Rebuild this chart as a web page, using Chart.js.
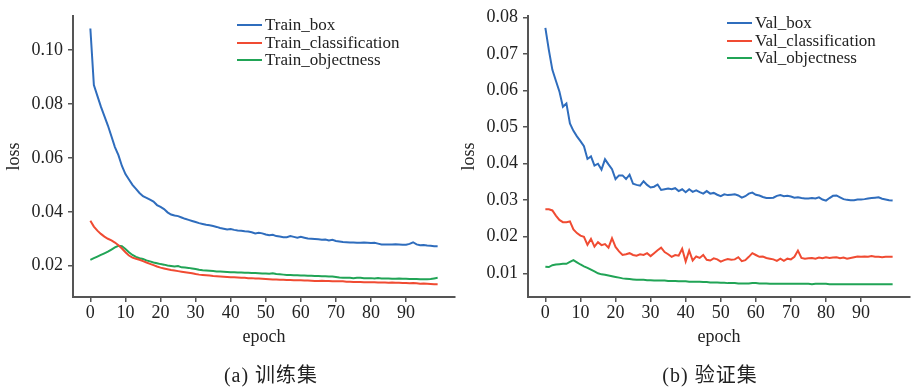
<!DOCTYPE html>
<html>
<head>
<meta charset="utf-8">
<script src="https://cdn.jsdelivr.net/npm/chart.js@4"></script>
<style>
  body { margin: 0; background: #fff; width: 911px; height: 387px; overflow: hidden; position: relative;
         font-family: "Liberation Serif", "Noto Sans CJK SC", serif; color: #222; }
  canvas { position: absolute; top: 0; }
  .legend { position: absolute; font-size: 17px; line-height: 17.5px; }
  .legend .row { position: relative; height: 17.5px; white-space: nowrap; }
  .legend .swatch { position: absolute; left: 0; top: 8px; width: 25px; height: 2px; }
  .legend .txt { position: absolute; left: 28px; top: 0; }
  .caption { position: absolute; top: 359px; font-size: 20px; letter-spacing: 1px; transform: translateX(-50%); white-space: nowrap; }
</style>
</head>
<body>
<canvas id="trainChart" width="460" height="360" style="left:0"></canvas>
<canvas id="valChart" width="456" height="360" style="left:455px"></canvas>
<div class="legend" id="trainLegend" style="left:237px; top:16px"></div>
<div class="legend" id="valLegend" style="left:727px; top:14px"></div>
<div class="caption" style="left:271px">(a)&nbsp;训练集</div>
<div class="caption" style="left:710px">(b)&nbsp;验证集</div>
<script>
const epochs = Array.from({ length: 100 }, (_, i) => i);
const xTicks = [0, 10, 20, 30, 40, 50, 60, 70, 80, 90];
const trainTicks = [0.02, 0.04, 0.06, 0.08, 0.10];
const valTicks = [0.01, 0.02, 0.03, 0.04, 0.05, 0.06, 0.07, 0.08];

const trainBox = [
  0.1080, 0.0870, 0.0830, 0.0790, 0.0755, 0.0720, 0.0680, 0.0640, 0.0610, 0.0570,
  0.0540, 0.0520, 0.0500, 0.0485, 0.0470, 0.0458, 0.0452, 0.0445, 0.0438, 0.0425,
  0.0418, 0.0410, 0.0398, 0.0390, 0.0386, 0.0384, 0.0379, 0.0374, 0.0370, 0.0366,
  0.0362, 0.0358, 0.0355, 0.0352, 0.0350, 0.0347, 0.0344, 0.0340, 0.0337, 0.0334,
  0.0336, 0.0333, 0.0331, 0.0330, 0.0328, 0.0327, 0.0324, 0.0320, 0.0322, 0.0320,
  0.0316, 0.0313, 0.0315, 0.0310, 0.0308, 0.0306, 0.0306, 0.0310, 0.0307, 0.0304,
  0.0307, 0.0304, 0.0301, 0.0300, 0.0299, 0.0298, 0.0296, 0.0297, 0.0294, 0.0296,
  0.0292, 0.0290, 0.0288, 0.0287, 0.0286, 0.0286, 0.0285, 0.0285, 0.0286, 0.0285,
  0.0284, 0.0285, 0.0282, 0.0279, 0.0279, 0.0279, 0.0279, 0.0280, 0.0279, 0.0278,
  0.0278, 0.0281, 0.0287, 0.0279, 0.0276, 0.0277, 0.0275, 0.0274, 0.0272, 0.0272
];
const trainCls = [
  0.0367, 0.0345, 0.0330, 0.0318, 0.0308, 0.0300, 0.0294, 0.0286, 0.0276, 0.0264,
  0.0250, 0.0238, 0.0230, 0.0226, 0.0222, 0.0217, 0.0212, 0.0207, 0.0202, 0.0197,
  0.0193, 0.0190, 0.0187, 0.0184, 0.0182, 0.0180, 0.0178, 0.0176, 0.0174, 0.0172,
  0.0169, 0.0167, 0.0166, 0.0165, 0.0164, 0.0162, 0.0161, 0.0160, 0.0159, 0.0158,
  0.0157, 0.0157, 0.0156, 0.0155, 0.0155, 0.0154, 0.0154, 0.0153, 0.0153, 0.0152,
  0.0151, 0.0150, 0.0149, 0.0149, 0.0148, 0.0148, 0.0147, 0.0147, 0.0146, 0.0146,
  0.0146, 0.0145, 0.0145, 0.0144, 0.0143, 0.0143, 0.0144, 0.0143, 0.0143, 0.0142,
  0.0142, 0.0142, 0.0142, 0.0141, 0.0141, 0.0140, 0.0140, 0.0140, 0.0139, 0.0139,
  0.0139, 0.0139, 0.0138, 0.0138, 0.0138, 0.0137, 0.0138, 0.0137, 0.0137, 0.0136,
  0.0136, 0.0135, 0.0136, 0.0135, 0.0133, 0.0134, 0.0133, 0.0132, 0.0131, 0.0131
];
const trainObj = [
  0.0222, 0.0228, 0.0234, 0.0240, 0.0246, 0.0252, 0.0260, 0.0268, 0.0274, 0.0272,
  0.0262, 0.0250, 0.0240, 0.0233, 0.0228, 0.0225, 0.0220, 0.0216, 0.0212, 0.0209,
  0.0206, 0.0204, 0.0201, 0.0199, 0.0197, 0.0199, 0.0194, 0.0193, 0.0192, 0.0190,
  0.0188, 0.0185, 0.0183, 0.0182, 0.0181, 0.0180, 0.0179, 0.0179, 0.0178, 0.0177,
  0.0176, 0.0176, 0.0175, 0.0175, 0.0174, 0.0174, 0.0173, 0.0173, 0.0172, 0.0171,
  0.0171, 0.0170, 0.0172, 0.0169, 0.0168, 0.0167, 0.0166, 0.0166, 0.0165, 0.0165,
  0.0164, 0.0164, 0.0163, 0.0163, 0.0162, 0.0162, 0.0161, 0.0161, 0.0160, 0.0160,
  0.0158, 0.0156, 0.0155, 0.0155, 0.0155, 0.0154, 0.0155, 0.0155, 0.0154, 0.0154,
  0.0154, 0.0153, 0.0154, 0.0153, 0.0153, 0.0153, 0.0152, 0.0152, 0.0153, 0.0152,
  0.0152, 0.0151, 0.0151, 0.0151, 0.0150, 0.0150, 0.0150, 0.0151, 0.0153, 0.0155
];

const valBox = [
  0.0772, 0.0711, 0.0657, 0.0627, 0.0598, 0.0556, 0.0565, 0.0510, 0.0490, 0.0475,
  0.0462, 0.0448, 0.0413, 0.0420, 0.0395, 0.0400, 0.0384, 0.0412, 0.0398, 0.0385,
  0.0358, 0.0368, 0.0368, 0.0358, 0.0370, 0.0345, 0.0342, 0.0340, 0.0352, 0.0342,
  0.0335, 0.0337, 0.0343, 0.0328, 0.0330, 0.0332, 0.0330, 0.0333, 0.0325, 0.0330,
  0.0322, 0.0330, 0.0323, 0.0327, 0.0322, 0.0318, 0.0325, 0.0318, 0.0320, 0.0315,
  0.0311, 0.0316, 0.0314, 0.0315, 0.0316, 0.0313, 0.0307, 0.0311, 0.0318, 0.0321,
  0.0315, 0.0313, 0.0309, 0.0306, 0.0306, 0.0307, 0.0312, 0.0314, 0.0311, 0.0312,
  0.0310, 0.0307, 0.0308, 0.0306, 0.0305, 0.0305, 0.0306, 0.0305, 0.0308, 0.0302,
  0.0299, 0.0306, 0.0312, 0.0313, 0.0308, 0.0303, 0.0301, 0.0300, 0.0300, 0.0302,
  0.0302, 0.0303, 0.0305, 0.0306, 0.0307, 0.0308, 0.0304, 0.0302, 0.0300, 0.0299
];
const valCls = [
  0.0275, 0.0275, 0.0272, 0.0258, 0.0246, 0.0240, 0.0240, 0.0242, 0.0220, 0.0210,
  0.0203, 0.0200, 0.0178, 0.0194, 0.0173, 0.0185, 0.0177, 0.0180, 0.0170, 0.0196,
  0.0172, 0.0160, 0.0150, 0.0152, 0.0155, 0.0150, 0.0148, 0.0152, 0.0150, 0.0155,
  0.0147, 0.0155, 0.0163, 0.0170, 0.0158, 0.0152, 0.0145, 0.0150, 0.0148, 0.0167,
  0.0132, 0.0162, 0.0135, 0.0146, 0.0142, 0.0150, 0.0137, 0.0135, 0.0141, 0.0138,
  0.0132, 0.0136, 0.0139, 0.0137, 0.0138, 0.0144, 0.0133, 0.0136, 0.0145, 0.0155,
  0.0150, 0.0145, 0.0146, 0.0142, 0.0140, 0.0138, 0.0134, 0.0140, 0.0134, 0.0140,
  0.0138, 0.0145, 0.0162, 0.0142, 0.0140, 0.0141, 0.0142, 0.0140, 0.0143, 0.0141,
  0.0144, 0.0142, 0.0143, 0.0144, 0.0141, 0.0143, 0.0140, 0.0142, 0.0144, 0.0146,
  0.0145, 0.0146, 0.0145, 0.0147, 0.0145, 0.0145, 0.0144, 0.0145, 0.0145, 0.0145
];
const valObj = [
  0.0118, 0.0117, 0.0122, 0.0124, 0.0125, 0.0126, 0.0126, 0.0131, 0.0136, 0.0130,
  0.0124, 0.0119, 0.0115, 0.0110, 0.0105, 0.0100, 0.0097, 0.0096, 0.0094, 0.0092,
  0.0090, 0.0088, 0.0086, 0.0085, 0.0084, 0.0083, 0.0082, 0.0082, 0.0082, 0.0081,
  0.0081, 0.0080, 0.0080, 0.0080, 0.0080, 0.0079, 0.0079, 0.0079, 0.0078, 0.0078,
  0.0078, 0.0077, 0.0077, 0.0077, 0.0077, 0.0076, 0.0076, 0.0075, 0.0075, 0.0075,
  0.0074, 0.0074, 0.0073, 0.0073, 0.0073, 0.0072, 0.0072, 0.0072, 0.0072, 0.0073,
  0.0073, 0.0072, 0.0072, 0.0072, 0.0071, 0.0071, 0.0071, 0.0071, 0.0071, 0.0071,
  0.0071, 0.0071, 0.0071, 0.0071, 0.0071, 0.0071, 0.0070, 0.0071, 0.0071, 0.0071,
  0.0071, 0.0070, 0.0070, 0.0070, 0.0070, 0.0070, 0.0070, 0.0070, 0.0070, 0.0070,
  0.0070, 0.0070, 0.0070, 0.0070, 0.0070, 0.0070, 0.0070, 0.0070, 0.0070, 0.0070
];

const trainNames = ["Train_box", "Train_classification", "Train_objectness"];
const valNames = ["Val_box", "Val_classification", "Val_objectness"];
const colors = ["#2f6dbd", "#f04b32", "#21a456"];

Chart.defaults.font.family = "'Liberation Serif', serif";
Chart.defaults.font.size = 18;
Chart.defaults.color = "#222";

function makeChart(id, series, names, yMin, yMax, yTicks, padRight) {
  const ctx = document.getElementById(id).getContext("2d");
  return new Chart(ctx, {
    type: "line",
    data: {
      datasets: series.map((vals, i) => ({
        label: names[i],
        data: vals.map((v, k) => ({ x: epochs[k], y: v })),
        borderColor: colors[i],
        borderWidth: 2,
        pointRadius: 0,
        tension: 0
      }))
    },
    options: {
      responsive: false,
      animation: false,
      layout: { padding: { top: 10, right: padRight, left: 0, bottom: 0 } },
      plugins: { legend: { display: false }, tooltip: { enabled: false } },
      scales: {
        x: {
          type: "linear",
          min: -4.95,
          max: 103.95,
          afterBuildTicks: s => { s.ticks = xTicks.map(v => ({ value: v })); },
          afterFit: s => { s.height = 63; },
          ticks: { padding: 0, maxRotation: 0, autoSkip: false },
          grid: { drawOnChartArea: false, drawTicks: true, tickLength: 5, color: "#555", lineWidth: 1.5 },
          border: { display: true, color: "#555", width: 2 },
          title: { display: true, text: "epoch", padding: { top: 0, bottom: 12 } }
        },
        y: {
          min: yMin,
          max: yMax,
          afterBuildTicks: s => { s.ticks = yTicks.map(v => ({ value: v })); },
          afterFit: s => { s.width = 73; },
          ticks: { padding: 5, callback: v => v.toFixed(2) },
          grid: { drawOnChartArea: false, drawTicks: true, tickLength: 5, color: "#555", lineWidth: 1.5 },
          border: { display: true, color: "#555", width: 2 },
          title: { display: true, text: "loss", padding: { top: 3, bottom: 0 } }
        }
      }
    }
  });
}

function makeLegend(id, names) {
  const box = document.getElementById(id);
  names.forEach((name, i) => {
    const row = document.createElement("div");
    row.className = "row";
    row.innerHTML = '<span class="swatch" style="background:' + colors[i] + '"></span><span class="txt">' + name + '</span>';
    box.appendChild(row);
  });
}

makeLegend("trainLegend", trainNames);
makeLegend("valLegend", valNames);

// canvas text needs the serif face loaded first
document.fonts.load("18px 'Liberation Serif'").then(() => {
  makeChart("trainChart", [trainBox, trainCls, trainObj], trainNames, 0.0084, 0.1127, trainTicks, 5);
  makeChart("valChart", [valBox, valCls, valObj], valNames, 0.0035, 0.0805, valTicks, 1);
});
</script>
</body>
</html>
